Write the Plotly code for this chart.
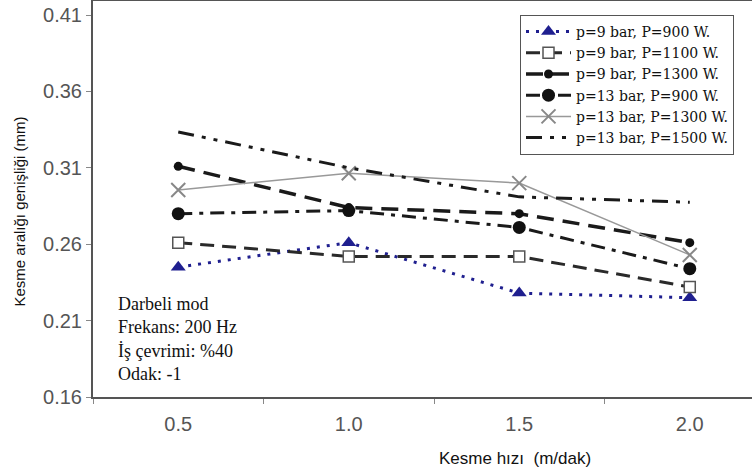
import plotly.graph_objects as go

categories = ["0.5", "1.0", "1.5", "2.0"]
y_ticks = [0.16, 0.21, 0.26, 0.31, 0.36, 0.41]

names = [
    "p=9 bar, P=900 W.",
    "p=9 bar, P=1100 W.",
    "p=9 bar, P=1300 W.",
    "p=13 bar, P=900 W.",
    "p=13 bar, P=1300 W.",
    "p=13 bar, P=1500 W.",
]
s_9_900 = [0.245, 0.261, 0.228, 0.225]
s_9_1100 = [0.261, 0.252, 0.252, 0.232]
s_9_1300 = [0.311, 0.284, 0.280, 0.261]
s_13_900 = [0.280, 0.282, 0.271, 0.244]
s_13_1300 = [0.2955, 0.3065, 0.300, 0.253]
s_13_1500 = [0.3335, 0.310, 0.291, 0.2875]

series = [s_9_900, s_9_1100, s_9_1300, s_13_900, s_13_1300, s_13_1500]

styles = [
    dict(line=dict(color="#1f1f8f", width=3, dash="3px,7px"),
         marker=dict(symbol="triangle-up", size=13, color="#1f1f8f")),
    dict(line=dict(color="#2a2a2a", width=3, dash="14px,8px"),
         marker=dict(symbol="square", size=11, color="white",
                     line=dict(color="#555555", width=1.5))),
    dict(line=dict(color="#1a1a1a", width=3.5, dash="17px,9px"),
         marker=dict(symbol="circle", size=9, color="#111111")),
    dict(line=dict(color="#1a1a1a", width=3, dash="14px,7px,4px,7px"),
         marker=dict(symbol="circle", size=13, color="#111111")),
    dict(line=dict(color="#999999", width=1.5),
         marker=dict(symbol="x-thin-open", size=14, color="#888888",
                     line=dict(color="#888888", width=2))),
    dict(line=dict(color="#1a1a1a", width=3, dash="16px,8px,4px,8px,4px,8px"),
         marker=dict(size=1, opacity=0)),
]

fig = go.Figure()
for i, (name, vals, st) in enumerate(zip(names, series, styles)):
    mode = "lines" if i == 5 else "lines+markers"
    fig.add_trace(go.Scatter(x=categories, y=vals, name=name, mode=mode,
                             line=st["line"], marker=st["marker"]))

axis_col = "#555555"
fig.update_layout(
    width=752, height=474,
    margin=dict(l=93, r=0, t=1, b=77),
    paper_bgcolor="white", plot_bgcolor="white",
    showlegend=True,
    legend=dict(
        x=(520 - 93) / 659, y=(397 - 15) / 396, xanchor="left", yanchor="top",
        bgcolor="white", bordercolor="#555555", borderwidth=1,
        font=dict(family="DejaVu Serif", size=14, color="#111111"),
        itemwidth=45, tracegroupgap=0,
    ),
    xaxis=dict(
        type="category", range=[-0.5, 3.365],
        showline=True, linecolor=axis_col, linewidth=2, mirror=True,
        ticks="outside", tickson="boundaries", ticklen=5, tickcolor="#888888",
        showgrid=False, zeroline=False,
        tickfont=dict(family="Arial", size=20, color="#555555"),
        ticklabelstandoff=8,
    ),
    yaxis=dict(
        range=[0.16, 0.4192],
        tickvals=y_ticks, ticktext=[f"{v:.2f}" for v in y_ticks],
        showline=True, linecolor=axis_col, linewidth=2,
        ticks="outside", ticklen=5, tickcolor="#888888",
        showgrid=False, zeroline=False,
        tickfont=dict(family="Arial", size=20, color="#555555"),
    ),
    annotations=[
        dict(text="Kesme aralığı genişliği (mm)", textangle=-90,
             xref="paper", yref="paper", x=-0.113, y=(397 - 212) / 396,
             xanchor="center", yanchor="middle", showarrow=False,
             font=dict(family="Arial", size=15, color="#111111")),
        dict(text="Kesme hızı  (m/dak)",
             xref="paper", yref="paper", x=(515 - 93) / 659, y=-0.155,
             xanchor="center", yanchor="middle", showarrow=False,
             font=dict(family="Arial", size=17, color="#111111")),
        dict(text="Darbeli mod<br>Frekans: 200 Hz<br>İş çevrimi: %40<br>Odak: -1",
             xref="paper", yref="paper", x=0.035, y=(397 - 292) / 396,
             xanchor="left", yanchor="top", align="left", showarrow=False,
             font=dict(family="Liberation Serif", size=18, color="#111111")),
    ],
)

fig.write_html("out.html", config={"displayModeBar": False},
               post_script="document.body.style.margin='0';")
